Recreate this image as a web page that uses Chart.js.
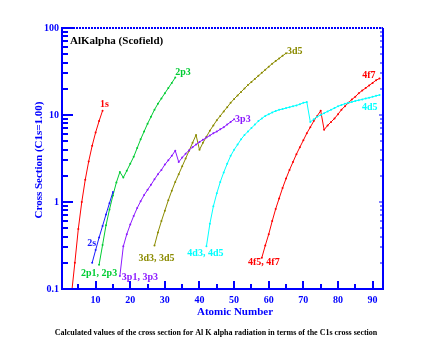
<!DOCTYPE html>
<html>
<head>
<title>AlKalpha (Scofield)</title>
<style>
  body { margin: 0; background: #fff; }
  #wrap { width: 427px; height: 362px; }
</style>
</head>
<body>
<div id="wrap"><canvas id="chart" width="427" height="362"></canvas></div>
<script src="https://cdn.jsdelivr.net/npm/chart.js"></script>
<script>
// atomic number and cross section (relative to C1s) for each curve
var z1s  = [3, 4, 5, 6, 7, 8, 9, 10, 11, 12];
var cs1s = [0.085, 0.2, 0.49, 1.0, 1.8, 2.93, 4.43, 6.3, 8.52, 11.2];

var z2s  = [9, 10, 11, 12, 13, 14, 15];
var cs2s = [0.2, 0.28, 0.39, 0.53, 0.72, 0.97, 1.3];

// 2p1+2p3 up to Z=17, then 2p3 only
var z2p  = [11, 12, 13, 14, 15, 16, 17, 18, 19, 20, 21, 22, 23, 24, 25, 26, 27, 28, 29, 30, 31, 32, 33];
var cs2p = [0.19, 0.32, 0.54, 0.82, 1.19, 1.68, 2.21, 1.91, 2.29, 2.75, 3.31, 4.17, 5.25, 6.46, 7.94, 9.55, 11.5, 13.5, 15.5, 17.8, 20.4, 23.4, 26.9];

// 3p1+3p3 up to Z=33, then 3p3 only
var z3p  = [17, 18, 19, 20, 21, 22, 23, 24, 25, 26, 27, 28, 29, 30, 31, 32, 33, 34, 35, 36, 37, 38, 39, 40, 41, 42, 43, 44, 45, 46, 47, 48, 49, 50];
var cs3p = [0.141, 0.309, 0.427, 0.55, 0.692, 0.851, 1.02, 1.2, 1.38, 1.58, 1.82, 2.09, 2.34, 2.69, 3.02, 3.39, 3.89, 2.88, 3.24, 3.59, 3.94, 4.27, 4.57, 4.9, 5.19, 5.5, 5.82, 6.17, 6.46, 6.84, 7.24, 7.76, 8.32, 8.91];

// 3d3+3d5 up to Z=39, then 3d5 only
var z3d  = [27, 28, 29, 30, 31, 32, 33, 34, 35, 36, 37, 38, 39, 40, 41, 42, 43, 44, 45, 46, 47, 48, 49, 50, 51, 52, 53, 54, 55, 56, 57, 58, 59, 60, 61, 62, 63, 64, 65];
var cs3d = [0.316, 0.447, 0.603, 0.794, 1.05, 1.35, 1.7, 2.09, 2.57, 3.16, 3.89, 4.79, 5.89, 3.98, 4.79, 5.62, 6.61, 7.59, 8.71, 9.77, 11.0, 12.3, 13.8, 15.3, 16.8, 18.4, 20.2, 22.1, 24.0, 26.0, 28.2, 30.5, 33.1, 35.9, 38.9, 41.7, 44.7, 47.9, 51.3];

// 4d3+4d5 up to Z=71, then 4d5 only
var z4d  = [42, 43, 44, 45, 46, 47, 48, 49, 50, 51, 52, 53, 54, 55, 56, 57, 58, 59, 60, 61, 62, 63, 64, 65, 66, 67, 68, 69, 70, 71, 72, 73, 74, 75, 76, 77, 78, 79, 80, 81, 82, 83, 84, 85, 86, 87, 88, 89, 90, 91, 92];
var cs4d = [0.309, 0.562, 0.891, 1.26, 1.7, 2.19, 2.75, 3.39, 3.98, 4.57, 5.25, 5.89, 6.46, 7.08, 7.76, 8.51, 9.12, 9.77, 10.2, 10.7, 11.1, 11.5, 11.7, 12.0, 12.3, 12.6, 12.9, 13.3, 13.8, 14.1, 8.32, 8.91, 9.55, 10.0, 10.5, 11.0, 11.5, 12.0, 12.6, 13.0, 13.5, 13.8, 14.1, 14.5, 14.8, 15.1, 15.5, 15.8, 16.2, 16.6, 17.0];

// 4f5+4f7 up to Z=75, then 4f7 only
var z4f  = [58, 59, 60, 61, 62, 63, 64, 65, 66, 67, 68, 69, 70, 71, 72, 73, 74, 75, 76, 77, 78, 79, 80, 81, 82, 83, 84, 85, 86, 87, 88, 89, 90, 91, 92];
var cs4f = [0.229, 0.316, 0.427, 0.603, 0.832, 1.1, 1.45, 1.86, 2.34, 2.88, 3.55, 4.27, 5.13, 6.17, 7.24, 8.51, 9.77, 11.2, 6.76, 7.59, 8.32, 9.12, 10.2, 11.5, 12.6, 13.8, 15.1, 16.2, 17.8, 19.1, 20.4, 21.9, 23.4, 25.1, 26.3];

var xTicks = [5, 10, 15, 20, 25, 30, 35, 40, 45, 50, 55, 60, 65, 70, 75, 80, 85, 90];
var yLabels = [0.1, 1, 10, 100];
var yMinor = [2, 3, 4, 5, 6, 7, 8, 9];

var axisBlue = '#0000ff';
var serif = '"Liberation Serif", "DejaVu Serif", serif';

function pts(zs, vs) {
    return zs.map(function(z, i) { return { x: z, y: vs[i] }; });
}

// curves: colour, start label, end label (text, align, dx, dy from the point)
var curves = [
    { z: z1s, v: cs1s, color: '#ff0000', end: ['1s', 'center', 2, -6] },
    { z: z2s, v: cs2s, color: '#1a1aff', start: ['2s', 'right', 4, -19] },
    { z: z2p, v: cs2p, color: '#00cc33', start: ['2p1, 2p3', 'center', 0, 9], end: ['2p3', 'left', 0, -5] },
    { z: z3p, v: cs3p, color: '#8c1aff', start: ['3p1, 3p3', 'left', 2, 1], end: ['3p3', 'left', 1, 0] },
    { z: z3d, v: cs3d, color: '#8b8b00', start: ['3d3, 3d5', 'center', 2, 13], end: ['3d5', 'left', 1, -2] },
    { z: z4d, v: cs4d, color: '#00ffff', start: ['4d3, 4d5', 'center', -1, 7], end: ['4d5', 'right', -2, 12] },
    { z: z4f, v: cs4f, color: '#ff0000', start: ['4f5, 4f7', 'center', 2, 5], end: ['4f7', 'right', -4, -3] }
];

var datasets = curves.map(function(c) {
    return {
        data: pts(c.z, c.v),
        borderColor: c.color,
        backgroundColor: c.color,
        borderWidth: 1,
        pointRadius: 1,
        pointBorderWidth: 0,
        tension: 0
    };
});

function isMajorY(v) {
    return yLabels.some(function(l) { return Math.abs(v - l) < l * 1e-6; });
}

function tickLine(ctx, x1, y1, x2, y2, w) {
    ctx.lineWidth = w;
    ctx.beginPath();
    ctx.moveTo(x1, y1);
    ctx.lineTo(x2, y2);
    ctx.stroke();
}

var decorations = {
    id: 'decorations',
    afterDraw: function(chart) {
        var ctx = chart.ctx, a = chart.chartArea;
        var xs = chart.scales.x, ys = chart.scales.y;
        ctx.save();
        ctx.strokeStyle = axisBlue;

        // frame
        ctx.lineWidth = 2;
        ctx.beginPath();
        ctx.moveTo(a.left + 1, a.top);
        ctx.lineTo(a.left + 1, a.bottom);
        ctx.lineTo(a.right, a.bottom);
        ctx.lineTo(a.right, a.top);
        ctx.stroke();
        ctx.setLineDash([2, 1]);
        tickLine(ctx, a.left, a.top, a.right, a.top, 2);
        ctx.setLineDash([]);

        // y ticks, pointing inward: long at decades, short in between
        yLabels.forEach(function(d, k) {
            var y = Math.round(ys.getPixelForValue(d));
            tickLine(ctx, a.left, y, a.left + 12, y, 2);
            tickLine(ctx, a.right, y, a.right - 4, y, 1);
            if (k === yLabels.length - 1) return;
            yMinor.forEach(function(m) {
                var ym = Math.round(ys.getPixelForValue(d * m));
                tickLine(ctx, a.left, ym, a.left + 7, ym, 2);
                tickLine(ctx, a.right, ym, a.right - 3, ym, 1);
            });
        });

        // x ticks
        xTicks.forEach(function(v) {
            var x = Math.round(xs.getPixelForValue(v));
            tickLine(ctx, x, a.bottom, x, a.bottom - (v % 10 === 0 ? 8 : 5), 2);
        });

        // curve labels
        ctx.font = 'bold 10px ' + serif;
        ctx.textBaseline = 'middle';
        curves.forEach(function(c) {
            [['start', 0], ['end', c.z.length - 1]].forEach(function(p) {
                var lab = c[p[0]];
                if (!lab) return;
                var i = p[1];
                var px = xs.getPixelForValue(c.z[i]);
                var py = ys.getPixelForValue(c.v[i]);
                ctx.fillStyle = c.color;
                ctx.textAlign = lab[1];
                ctx.fillText(lab[0], px + lab[2], py + lab[3]);
            });
        });

        // plot title inside the frame
        ctx.fillStyle = '#000';
        ctx.textAlign = 'left';
        ctx.font = 'bold 11px ' + serif;
        ctx.fillText('AlKalpha (Scofield)', a.left + 9, a.top + 13);

        // axis titles
        ctx.fillStyle = axisBlue;
        ctx.textAlign = 'center';
        ctx.font = 'bold 11px ' + serif;
        ctx.fillText('Atomic Number', 235, 312);
        ctx.save();
        ctx.translate(39, 160);
        ctx.rotate(-Math.PI / 2);
        ctx.fillText('Cross Section (C1s=1.00)', 0, 0);
        ctx.restore();

        // caption
        ctx.fillStyle = '#000';
        ctx.font = 'bold 8px ' + serif;
        ctx.fillText('Calculated values of the cross section for Al K alpha radiation in terms of the C1s cross section', 216, 333);
        ctx.restore();
    }
};

new Chart(document.getElementById('chart').getContext('2d'), {
    type: 'line',
    data: { datasets: datasets },
    options: {
        responsive: false,
        animation: false,
        devicePixelRatio: 1,
        layout: { padding: { top: 28, right: 44, bottom: 0, left: 0 } },
        plugins: { legend: { display: false }, tooltip: { enabled: false } },
        scales: {
            x: {
                type: 'linear',
                min: 0,
                max: 93,
                afterBuildTicks: function(scale) {
                    scale.ticks = xTicks.map(function(v) { return { value: v }; });
                },
                afterFit: function(scale) { scale.height = 73; },
                grid: { display: false, drawTicks: false },
                border: { display: false },
                ticks: {
                    autoSkip: false,
                    maxRotation: 0,
                    padding: 5,
                    color: axisBlue,
                    font: { family: serif, size: 10, weight: 'bold' },
                    callback: function(v) { return v % 10 === 0 ? String(v) : ''; }
                }
            },
            y: {
                type: 'logarithmic',
                min: 0.1,
                max: 100,
                afterFit: function(scale) { scale.width = 61; },
                grid: { display: false, drawTicks: false },
                border: { display: false },
                ticks: {
                    autoSkip: false,
                    padding: 2,
                    color: axisBlue,
                    font: { family: serif, size: 10, weight: 'bold' },
                    callback: function(v) { return isMajorY(v) ? String(v) : ''; }
                }
            }
        }
    },
    plugins: [decorations]
});
</script>
</body>
</html>
